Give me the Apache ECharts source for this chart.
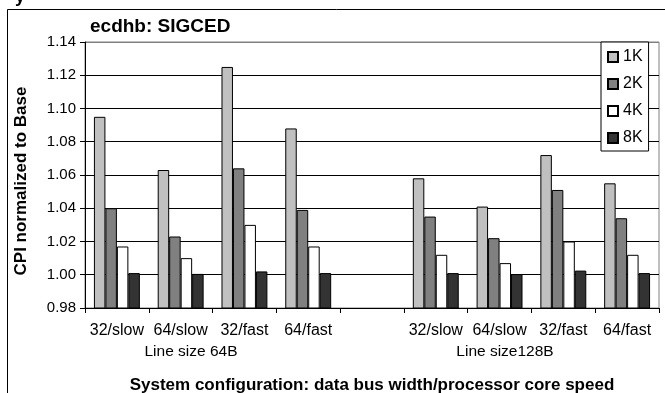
<!DOCTYPE html>
<html><head><meta charset="utf-8">
<script src="https://cdn.jsdelivr.net/npm/echarts@6/dist/echarts.min.js"></script>
<style>html,body{margin:0;padding:0;background:#fff}#c{width:665px;height:393px}</style>
</head><body><div id="c"></div>
<script>
var categories = ["32/slow","64/slow","32/fast","64/fast","","32/slow","64/slow","32/fast","64/fast"];
var groupLabels = ["Line size 64B","Line size128B"];
var seriesNames = ["1K","2K","4K","8K"];
var v1K = [1.095,1.063,1.125,1.088,null,1.058,1.041,1.072,1.055];
var v2K = [1.040,1.023,1.064,1.039,null,1.035,1.022,1.051,1.034];
var v4K = [1.017,1.010,1.030,1.017,null,1.012,1.007,1.020,1.012];
var v8K = [1.001,1.0005,1.002,1.001,null,1.001,1.0004,1.0025,1.001];
var yTicks = {min:0.98, max:1.14, step:0.02};
var titleText = "ecdhb: SIGCED";
var yName = "CPI normalized to Base";
var xName = "System configuration: data bus width/processor core speed";

var FONT = "'Liberation Sans', Arial, sans-serif";
var colors = ["#c0c0c0","#808080","#ffffff","#333333"];
var vals = [v1K,v2K,v4K,v8K];
var chart = echarts.init(document.getElementById('c'), null, {renderer:'canvas'});
var series = seriesNames.map(function(n,i){
  return {name:n, type:'bar', data:vals[i], barGap:'0%', barCategoryGap:'28%',
    itemStyle:{color:colors[i], borderColor:'#000', borderWidth:1}, emphasis:{disabled:true}};
});
chart.setOption({
  animation:false,
  backgroundColor:'#fff',
  textStyle:{fontFamily:FONT},
  title:{text:titleText, left:85, top:12, textStyle:{fontFamily:FONT, fontSize:19, fontWeight:'bold', color:'#000'}},
  grid:{left:85, top:42, right:6, bottom:85, containLabel:false, outerBoundsMode:'none', show:true, borderColor:'#808080', borderWidth:1, backgroundColor:'transparent'},
  legend:{orient:'vertical', left:601, top:42, width:48, padding:[7,6,5,6], itemGap:11,
    itemWidth:10, itemHeight:10, icon:'rect', borderColor:'#000', borderWidth:1, backgroundColor:'#fff',
    textStyle:{fontFamily:FONT, fontSize:16, color:'#000'}, selectedMode:false},
  xAxis:{type:'category', data:categories, boundaryGap:true,
    axisLine:{lineStyle:{color:'#000', width:1}}, axisTick:{show:true, length:5, lineStyle:{color:'#000'}},
    axisLabel:{fontFamily:FONT, fontSize:16, color:'#000', margin:15, interval:0},
    name:xName, nameLocation:'middle', nameGap:69,
    nameTextStyle:{fontFamily:FONT, fontSize:17, fontWeight:'bold', color:'#000'}},
  yAxis:{type:'value', min:yTicks.min, max:yTicks.max, interval:yTicks.step,
    axisLine:{show:true, lineStyle:{color:'#000'}}, axisTick:{show:true, length:5, lineStyle:{color:'#000'}},
    axisLabel:{fontFamily:FONT, fontSize:15, color:'#000', margin:9, formatter:function(v){return v.toFixed(2);}},
    splitLine:{show:true, lineStyle:{color:['#000','#000','#000','#000','#000','#000','#000','#000','#808080'], width:1}}},
  series:series,
  graphic:[
    {type:'rect', shape:{x:7.5, y:9.5, width:700, height:420}, style:{fill:'none', stroke:'#000', lineWidth:1}, silent:true, z:-1},
    {type:'text', left:15, top:-12, style:{text:'y', font:'bold 18px '+FONT, fill:'#000'}},
    {type:'text', x:21, y:181, rotation:Math.PI/2, style:{text:yName, font:'bold 17px '+FONT, fill:'#000', textAlign:'center', textVerticalAlign:'middle'}},
    {type:'text', x:191, y:352, style:{text:groupLabels[0], font:'15.5px '+FONT, fill:'#000', textAlign:'center', textVerticalAlign:'middle'}},
    {type:'text', x:505, y:352, style:{text:groupLabels[1], font:'15.5px '+FONT, fill:'#000', textAlign:'center', textVerticalAlign:'middle'}}
  ]
});
</script></body></html>
